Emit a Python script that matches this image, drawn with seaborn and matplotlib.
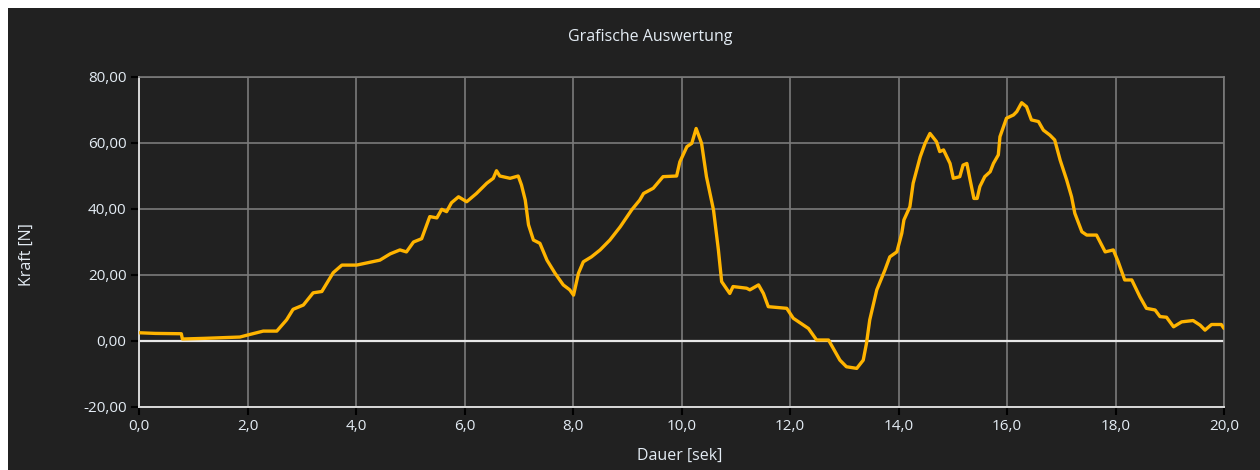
import numpy as np
import pandas as pd
import matplotlib
matplotlib.use("Agg")
import matplotlib.pyplot as plt
from matplotlib.patches import Rectangle
from matplotlib.ticker import FuncFormatter
import seaborn as sns

# ------------------------------
# DATA
# ------------------------------
dauer = [0.0, 0.3, 0.78, 0.8, 1.2, 1.86, 2.0, 2.29, 2.54, 2.72, 2.84, 3.03, 3.21,
         3.37, 3.58, 3.74, 4.01, 4.44, 4.63, 4.81, 4.93, 5.06, 5.21, 5.36, 5.49,
         5.58, 5.67, 5.76, 5.89, 6.04, 6.22, 6.41, 6.53, 6.59, 6.65, 6.84, 6.99,
         7.05, 7.12, 7.18, 7.27, 7.39, 7.52, 7.67, 7.82, 7.94, 8.01, 8.1, 8.19,
         8.34, 8.5, 8.68, 8.87, 9.08, 9.23, 9.3, 9.48, 9.66, 9.91, 9.97, 10.1,
         10.19, 10.27, 10.37, 10.46, 10.59, 10.68, 10.74, 10.89, 10.95, 11.2,
         11.26, 11.42, 11.51, 11.6, 11.94, 12.06, 12.34, 12.49, 12.71, 12.92,
         13.04, 13.23, 13.35, 13.41, 13.47, 13.6, 13.75, 13.84, 13.97, 14.06,
         14.1, 14.21, 14.27, 14.4, 14.49, 14.58, 14.7, 14.76, 14.83, 14.95,
         15.01, 15.13, 15.19, 15.26, 15.32, 15.39, 15.45, 15.5, 15.59, 15.69,
         15.75, 15.84, 15.87, 15.99, 16.12, 16.18, 16.27, 16.36, 16.45, 16.58,
         16.67, 16.79, 16.88, 16.98, 17.1, 17.19, 17.25, 17.38, 17.47, 17.65,
         17.81, 17.96, 18.05, 18.17, 18.3, 18.45, 18.57, 18.73, 18.82, 18.94,
         19.07, 19.22, 19.43, 19.56, 19.65, 19.77, 19.95, 20.0]
kraft = [2.5, 2.3, 2.2, 0.6, 0.8, 1.2, 1.8, 3.0, 3.0, 6.4, 9.6, 10.9, 14.6,
         15.0, 20.7, 23.0, 23.0, 24.5, 26.4, 27.6, 27.0, 30.0, 31.0, 37.7, 37.3,
         39.9, 39.2, 41.9, 43.7, 42.2, 44.7, 47.8, 49.3, 51.6, 50.0, 49.3, 50.0,
         47.3, 42.7, 35.2, 30.6, 29.6, 24.5, 20.5, 17.0, 15.5, 13.9, 20.5, 24.0,
         25.5, 27.6, 30.6, 34.6, 39.7, 42.7, 44.7, 46.3, 49.8, 50.0, 54.3, 58.9,
         59.9, 64.4, 59.9, 49.8, 39.7, 27.6, 18.0, 14.4, 16.5, 16.0,
         15.5, 17.0, 14.4, 10.4, 9.9, 6.9, 3.8, 0.3, 0.3, -5.8,
         -7.8, -8.3, -5.8, -0.7, 6.4, 15.5, 21.5, 25.5, 27.0, 32.6,
         36.7, 40.7, 47.8, 55.8, 59.9, 62.9, 60.4, 57.4, 57.9, 53.8,
         49.3, 49.8, 53.3, 53.8, 48.8, 43.2, 43.2, 46.8, 49.8, 51.3,
         53.8, 56.4, 61.9, 67.5, 68.5, 69.5, 72.2, 71.0, 67.0, 66.5,
         63.9, 62.4, 60.9, 54.8, 48.8, 43.7, 38.7, 33.1, 32.1, 32.1,
         27.0, 27.6, 24.0, 18.5, 18.5, 13.4, 9.9, 9.4, 7.4, 7.2,
         4.3, 5.8, 6.2, 4.8, 3.3, 5.0, 5.0, 3.8]

x_ticks = np.arange(0, 20.1, 2.0)
y_ticks = np.arange(-20, 80.1, 20)

BG = "#212121"
GRID = "#7a7a7a"
TEXT = "#e4ecf4"
LINE = "#ffb400"

sns.set_style("dark", {"axes.facecolor": BG, "figure.facecolor": BG})
plt.rcParams["font.family"] = ["Open Sans", "DejaVu Sans"]

df = pd.DataFrame({"Dauer": dauer, "Kraft": kraft})

fig = plt.figure(figsize=(12.6, 4.7), dpi=100)
fig.patch.set_facecolor(BG)
# white strips at top and left edge
fig.patches.append(Rectangle((0, 0), 8 / 1260, 1, transform=fig.transFigure,
                             facecolor="white", edgecolor="none", zorder=0))
fig.patches.append(Rectangle((0, 1 - 8 / 470), 1, 8 / 470, transform=fig.transFigure,
                             facecolor="white", edgecolor="none", zorder=0))

ax = fig.add_axes([139 / 1260, 1 - 407 / 470, (1224 - 139) / 1260, 330 / 470])
ax.set_facecolor(BG)

sns.lineplot(data=df, x="Dauer", y="Kraft", ax=ax, color=LINE, linewidth=2.4,
             estimator=None, zorder=3)

ax.set_xlim(0, 20)
ax.set_ylim(-20, 80)
ax.set_xticks(x_ticks)
ax.set_yticks(y_ticks)
ax.xaxis.set_major_formatter(FuncFormatter(lambda v, p: f"{v:.1f}".replace(".", ",")))
ax.yaxis.set_major_formatter(FuncFormatter(lambda v, p: f"{v:.2f}".replace(".", ",")))

ax.grid(True, color=GRID, linewidth=1.2)
ax.axhline(0, color="#e8e8e8", linewidth=1.6, zorder=2)

for side in ["top", "right"]:
    ax.spines[side].set_color(GRID)
    ax.spines[side].set_linewidth(1.2)
for side in ["left", "bottom"]:
    ax.spines[side].set_color("#d8d8d8")
    ax.spines[side].set_linewidth(1.4)
    ax.spines[side].set_visible(True)

ax.tick_params(axis="both", colors="black", length=6, width=1.5, direction="out",
               labelcolor=TEXT, labelsize=11, pad=3, bottom=True, left=True)

ax.set_xlabel("")
ax.set_ylabel("")
fig.text(650 / 1260, 1 - 37 / 470, "Grafische Auswertung", color=TEXT,
         fontsize=11.5, ha="center", va="center")
fig.text(680 / 1260, 1 - 456 / 470, "Dauer [sek]", color=TEXT,
         fontsize=11.5, ha="center", va="center")
fig.text(27 / 1260, 1 - 255 / 470, "Kraft [N]", color=TEXT, rotation=90,
         fontsize=11.5, ha="center", va="center")

fig.savefig("out.png", dpi=100, facecolor=BG)
